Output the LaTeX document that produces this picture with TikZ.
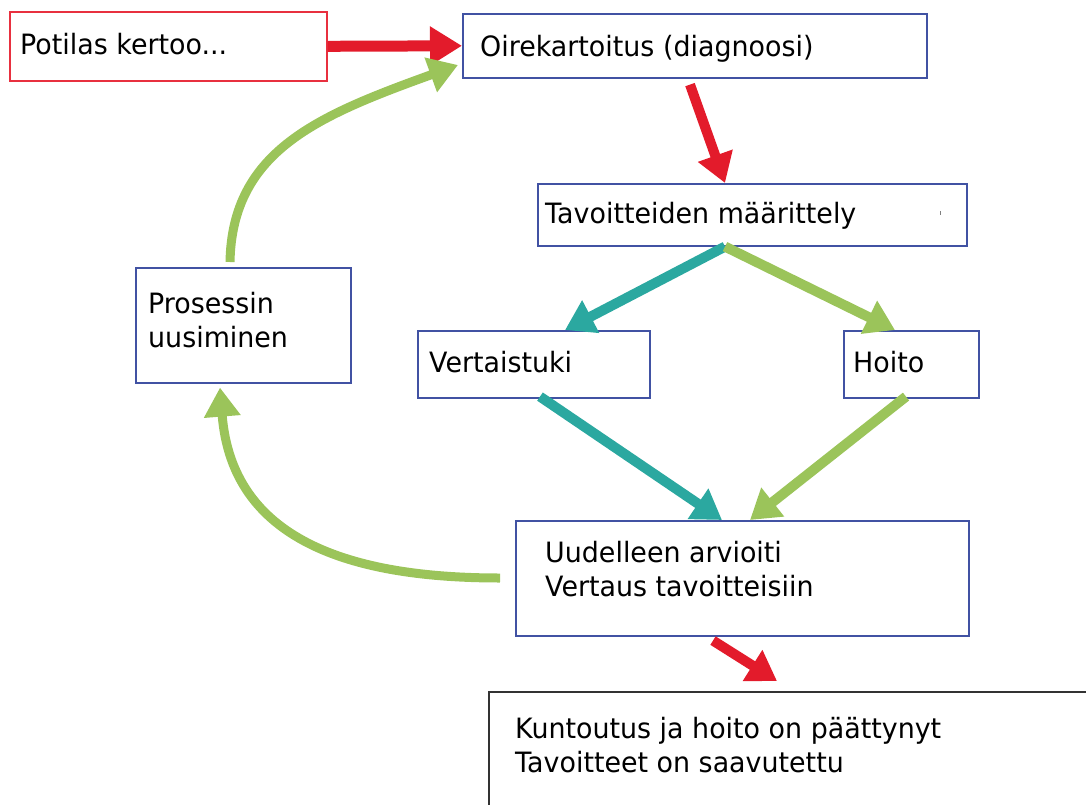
\documentclass[tikz,border=0pt]{standalone}
\usepackage{fontspec}
\setmainfont{DejaVu Sans}[FakeStretch=0.96]
\usetikzlibrary{arrows.meta,calc}
\definecolor{myred}{HTML}{E31B2B}
\definecolor{redborder}{HTML}{E8303F}
\definecolor{myblue}{HTML}{4152A3}
\definecolor{myteal}{HTML}{2BA8A0}
\definecolor{mygreen}{HTML}{9BC45A}
\definecolor{darkborder}{HTML}{333333}
\tikzset{
  box/.style={draw=myblue, line width=1.6pt, rectangle, inner sep=0pt, anchor=north west},
  redbox/.style={box, draw=redborder},
  endbox/.style={box, draw=darkborder, line width=2.4pt},
  lbl/.style={anchor=base west, inner sep=0pt, font=\fontsize{28}{34}\selectfont, text=black},
  arr/.style={line width=10pt, -{Triangle[length=29pt,width=35pt]}},
  bigarr/.style={line width=11pt, -{Triangle[length=32pt,width=37pt]}}
}
\begin{document}
\begin{tikzpicture}[x=1pt,y=-1pt]
\useasboundingbox (0,0) rectangle (1086,805);
% boxes
\node[redbox, minimum width=317pt, minimum height=69pt] (pot) at (9,11) {};
\node[box, minimum width=464pt, minimum height=64pt] (oire) at (462,13) {};
\node[box, minimum width=429pt, minimum height=62pt] (tav) at (537,183) {};
\node[box, minimum width=232pt, minimum height=67pt] (vert) at (417,330) {};
\node[box, minimum width=135pt, minimum height=67pt] (hoi) at (843,330) {};
\node[box, minimum width=215pt, minimum height=115pt] (pro) at (135,267) {};
\node[box, minimum width=453pt, minimum height=115pt] (uud) at (515,520) {};
\node[endbox, minimum width=640pt, minimum height=140pt] (fin) at (488,691) {};
% texts
\node[lbl] (tpot) at (20,55) {Potilas kertoo...};
\node[lbl] (toire) at (480,57) {Oirekartoitus (diagnoosi)};
\node[lbl] (ttav) at (545,223) {Tavoitteiden määrittely};
\node[lbl] (tvert) at (429,372) {Vertaistuki};
\node[lbl] (thoi) at (853,372) {Hoito};
\node[lbl] (tpro1) at (148,313) {Prosessin};
\node[lbl] (tpro2) at (148,347) {uusiminen};
\node[lbl] (tuud1) at (545,562) {Uudelleen arvioiti};
\node[lbl] (tuud2) at (545,596) {Vertaus tavoitteisiin};
\node[lbl] (tfin1) at (515,738) {Kuntoutus ja hoito on päättynyt};
\node[lbl] (tfin2) at (515,772) {Tavoitteet on saavutettu};
% tiny mark
\draw[gray, line width=0.8pt] ([shift={(403,28)}]tav.north west) -- ([shift={(403,32)}]tav.north west);
% arrows
\draw[bigarr, myred] (pot.east) -- (oire.west);
\draw[arr, myred] ([shift={(228,6)}]oire.south west) -- ([shift={(188,0)}]tav.north west);
\draw[arr, myteal] ([shift={(188,0)}]tav.south west) -- ([shift={(148,0)}]vert.north west);
\draw[arr, mygreen] ([shift={(188,0)}]tav.south west) -- ([shift={(52,0)}]hoi.north west);
\draw[arr, myteal] ([shift={(123,-2)}]vert.south west) -- ([shift={(207,0)}]uud.north west);
\draw[arr, mygreen] ([shift={(63,-2)}]hoi.south west) -- ([shift={(235,0)}]uud.north west);
\draw[arr, myred] ([shift={(198,4)}]uud.south west) -- ([shift={(289,-10)}]fin.north west);
\draw[arr, mygreen, line width=9pt] ([shift={(-15,58)}]uud.north west) .. controls (350,578) and (232,540) .. ([shift={(85,4)}]pro.south west);
\draw[arr, mygreen, line width=9pt] ([shift={(95,-5)}]pro.north west) .. controls (232,150) and (320,115) .. ([shift={(-4,52)}]oire.north west);
\end{tikzpicture}
\end{document}
